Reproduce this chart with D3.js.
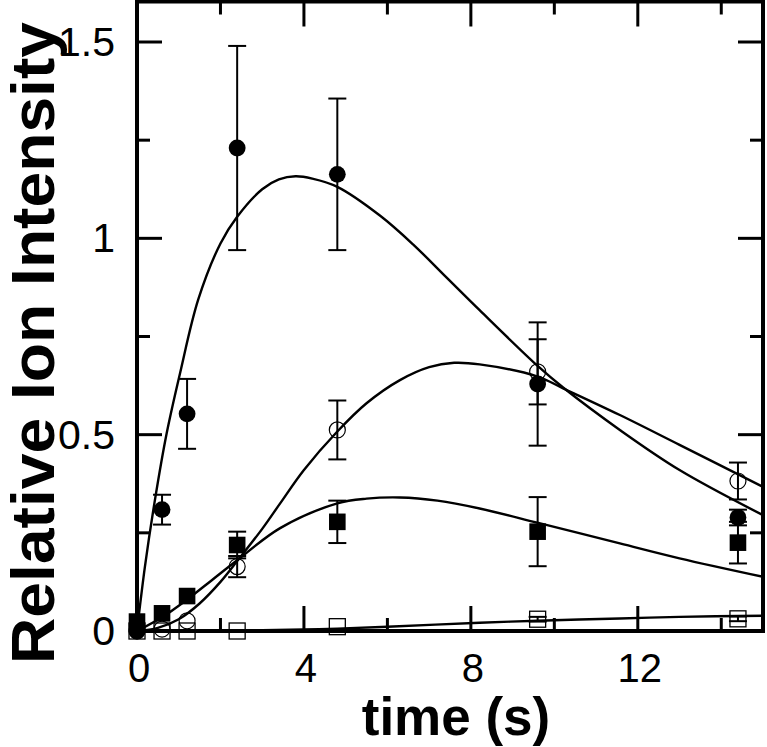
<!DOCTYPE html>
<html><head><meta charset="utf-8">
<script src="https://cdn.jsdelivr.net/npm/d3@7"></script>
<style>html,body{margin:0;padding:0;background:#fff;} svg{display:block;}</style>
</head><body>
<script>
// ---- data ----
const timePts = [0, 0.6, 1.2, 2.4, 4.8, 9.6, 14.4];
// filled circles
const filledCircleY   = [0, 0.309, 0.553, 1.23, 1.163, 0.629, 0.289];
const filledCircleErr = [0, 0.038, 0.089, 0.26, 0.193, 0.157, 0.02];
// open circles
const openCircleY   = [0, 0.005, 0.026, 0.164, 0.512, 0.660, 0.382];
const openCircleErr = [0, 0, 0, 0.027, 0.075, 0.083, 0.047];
// filled squares
const filledSquareY   = [0.024, 0.045, 0.089, 0.219, 0.278, 0.253, 0.225];
const filledSquareErr = [0, 0, 0, 0.034, 0.054, 0.088, 0.053];
// open squares
const openSquareY   = [0, 0, 0, 0, 0.011, 0.030, 0.031];
const openSquareErr = [0, 0, 0, 0, 0, 0.006, 0.006];

// fitted curves
const fitAx = [0, 0.19, 0.43, 0.71, 1.03, 1.47, 2.0, 2.4, 3.0, 3.4, 3.8, 4.2, 4.8, 5.82, 6.62, 7.42, 8.21, 9.6, 10.21, 11.57, 13.0, 15];
const fitAy = [0, 0.164, 0.334, 0.503, 0.656, 0.845, 0.987, 1.055, 1.125, 1.150, 1.158, 1.152, 1.131, 1.058, 0.984, 0.9, 0.817, 0.675, 0.62, 0.512, 0.41, 0.295];
const fitBx = [0, 0.5, 1.0, 1.5, 2.0, 2.4, 3.0, 3.43, 4.0, 4.8, 5.5, 6.3, 7.0, 7.6, 8.21, 9.6, 10.21, 11.57, 13.0, 15];
const fitBy = [0, 0.008, 0.03, 0.07, 0.125, 0.178, 0.26, 0.325, 0.41, 0.508, 0.58, 0.639, 0.672, 0.683, 0.679, 0.648, 0.618, 0.55, 0.474, 0.367];
const fitCx = [0, 0.6, 1.2, 1.8, 2.4, 3.43, 4.8, 5.5, 6.3, 7.2, 8.21, 9.59, 11.57, 13.0, 15];
const fitCy = [0, 0.035, 0.08, 0.13, 0.18, 0.262, 0.325, 0.337, 0.340, 0.332, 0.312, 0.276, 0.223, 0.185, 0.138];
const fitDx = [0, 2, 3, 4, 4.8, 6.0, 8.21, 9.6, 11.57, 13, 15];
const fitDy = [0, 0.0005, 0.002, 0.004, 0.006, 0.011, 0.021, 0.026, 0.032, 0.036, 0.039];

const xMajor = [0, 4, 8, 12];
const xMinor = [2, 6, 10, 14];
const yMajor = [0, 0.5, 1, 1.5];
const yMinor = [0.25, 0.75, 1.25];
const xTickLabels = ["0", "4", "8", "12"];
const yTickLabels = ["0", "0.5", "1", "1.5"];

// ---- drawing ----
const W = 767, H = 747;
const svg = d3.select("body").append("svg").attr("width", W).attr("height", H);
const L = 137, R = 763, B = 631, T = 1.5;
const x = d3.scaleLinear().domain([0, 15]).range([L, R]);
const y = d3.scaleLinear().domain([0, 1.5]).range([B, 42]);
const font = "'Liberation Sans', Arial, Helvetica, sans-serif";

svg.append("clipPath").attr("id", "clip").append("rect")
  .attr("x", L).attr("y", T).attr("width", R - L).attr("height", B - T);
const plot = svg.append("g").attr("clip-path", "url(#clip)");

// curves
const line = d3.line().x(d => x(d[0])).y(d => y(d[1])).curve(d3.curveCatmullRom.alpha(0.5));
[[fitAx, fitAy], [fitBx, fitBy], [fitCx, fitCy], [fitDx, fitDy]].forEach(([xs, ys]) => {
  plot.append("path").datum(xs.map((v, i) => [v, ys[i]]))
    .attr("d", line).attr("fill", "none").attr("stroke", "#000").attr("stroke-width", 2.4);
});

// error bars
function errBars(ys, es) {
  const g = svg.append("g").attr("stroke", "#000").attr("stroke-width", 2);
  timePts.forEach((t, i) => {
    if (!es[i]) return;
    const cx = x(t), y1 = y(ys[i] + es[i]), y2 = y(ys[i] - es[i]);
    g.append("line").attr("x1", cx).attr("x2", cx).attr("y1", y1).attr("y2", y2);
    g.append("line").attr("x1", cx - 9).attr("x2", cx + 9).attr("y1", y1).attr("y2", y1);
    g.append("line").attr("x1", cx - 9).attr("x2", cx + 9).attr("y1", y2).attr("y2", y2);
  });
}
errBars(filledCircleY, filledCircleErr);
errBars(openCircleY, openCircleErr);
errBars(filledSquareY, filledSquareErr);
errBars(openSquareY, openSquareErr);

// markers
const mk = svg.append("g");
timePts.forEach((t, i) => {
  mk.append("rect").attr("x", x(t) - 8).attr("y", y(openSquareY[i]) - 8).attr("width", 16).attr("height", 16)
    .attr("fill", "none").attr("stroke", "#000").attr("stroke-width", 1.3);
});
timePts.forEach((t, i) => {
  mk.append("circle").attr("cx", x(t)).attr("cy", y(openCircleY[i])).attr("r", 8)
    .attr("fill", "none").attr("stroke", "#000").attr("stroke-width", 1.2);
});
timePts.forEach((t, i) => {
  mk.append("rect").attr("x", x(t) - 8.3).attr("y", y(filledSquareY[i]) - 8.3).attr("width", 16.6).attr("height", 16.6)
    .attr("fill", "#000");
});
timePts.forEach((t, i) => {
  mk.append("circle").attr("cx", x(t)).attr("cy", y(filledCircleY[i])).attr("r", 8.4).attr("fill", "#000");
});

// axes (ticks inward)
const ax = svg.append("g").attr("stroke", "#000");
xMajor.forEach(v => {
  ax.append("line").attr("x1", x(v)).attr("x2", x(v)).attr("y1", B).attr("y2", B - 25).attr("stroke-width", 3);
  ax.append("line").attr("x1", x(v)).attr("x2", x(v)).attr("y1", T).attr("y2", T + 25).attr("stroke-width", 3);
});
xMinor.forEach(v => {
  ax.append("line").attr("x1", x(v)).attr("x2", x(v)).attr("y1", B).attr("y2", B - 13).attr("stroke-width", 3);
  ax.append("line").attr("x1", x(v)).attr("x2", x(v)).attr("y1", T).attr("y2", T + 13).attr("stroke-width", 3);
});
yMajor.forEach(v => {
  ax.append("line").attr("x1", L).attr("x2", L + 25).attr("y1", y(v)).attr("y2", y(v)).attr("stroke-width", 3);
  ax.append("line").attr("x1", R).attr("x2", R - 25).attr("y1", y(v)).attr("y2", y(v)).attr("stroke-width", 3);
});
yMinor.forEach(v => {
  ax.append("line").attr("x1", L).attr("x2", L + 13).attr("y1", y(v)).attr("y2", y(v)).attr("stroke-width", 3);
  ax.append("line").attr("x1", R).attr("x2", R - 13).attr("y1", y(v)).attr("y2", y(v)).attr("stroke-width", 3);
});
svg.append("rect").attr("x", L).attr("y", T).attr("width", R - L).attr("height", B - T)
  .attr("fill", "none").attr("stroke", "#000").attr("stroke-width", 4);

// tick labels
xMajor.forEach((v, i) => {
  svg.append("text").attr("x", x(v) + 2).attr("y", 682).attr("text-anchor", "middle")
    .attr("font-family", font).attr("font-size", 40).text(xTickLabels[i]);
});
yMajor.forEach((v, i) => {
  svg.append("text").attr("x", 115).attr("y", y(v) + 14).attr("text-anchor", "end")
    .attr("font-family", font).attr("font-size", 41).text(yTickLabels[i]);
});

// axis titles
svg.append("text").attr("x", 456).attr("y", 735).attr("text-anchor", "middle")
  .attr("font-family", font).attr("font-weight", "bold").attr("font-size", 53).text("time (s)");
svg.append("text").attr("transform", "translate(54,343) rotate(-90)").attr("text-anchor", "middle")
  .attr("font-family", font).attr("font-weight", "bold").attr("font-size", 61)
  .attr("textLength", 642).attr("lengthAdjust", "spacingAndGlyphs").text("Relative Ion Intensity");
</script>
</body></html>
